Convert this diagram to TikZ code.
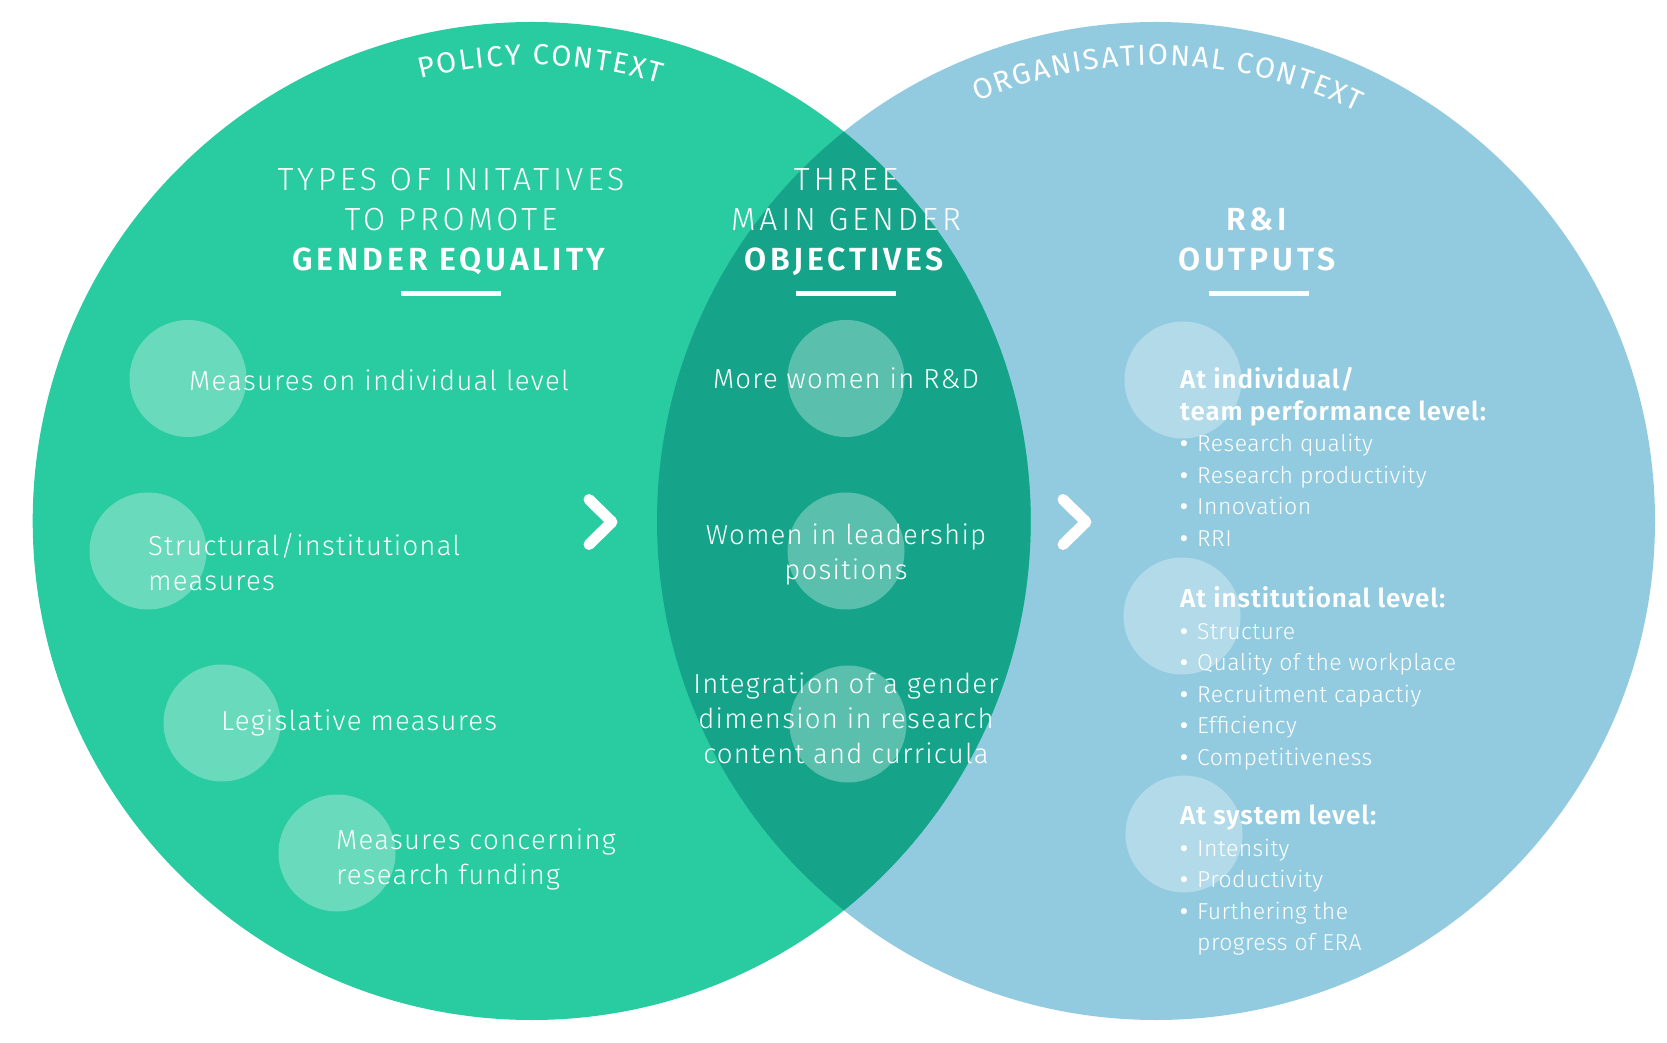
\documentclass[tikz,border=0pt]{standalone}
\usepackage{fontspec}
\setmainfont{Fira Sans Light}[BoldFont={Fira Sans SemiBold}]
\newfontfamily\ctxfont{Fira Sans}
\usetikzlibrary{decorations.text}
\definecolor{cgreen}{RGB}{41,203,160}
\definecolor{cblue}{RGB}{146,203,223}
\definecolor{coverlap}{RGB}{21,164,138}
\newcommand{\itm}[1]{\makebox[17pt][l]{\bfseries\textbullet}#1}
\newcommand{\ohead}[1]{{\fontsize{26}{31.5}\selectfont\bfseries\addfontfeatures{LetterSpace=3.5}#1}}
\begin{document}
\begin{tikzpicture}[x=1pt,y=1pt,
  bubble/.style={circle, fill=white, fill opacity=0.3, minimum size=117pt, inner sep=0pt},
  lbl/.style={text=white, font=\fontsize{27.5}{35}\selectfont\addfontfeatures{LetterSpace=4.5}, inner sep=0pt},
  head/.style={text=white, align=center, inner sep=0pt, font=\fontsize{32}{40}\selectfont\addfontfeatures{LetterSpace=12}},
  bar/.style={white, line width=5pt},
  chev/.style={white, line width=11pt, line cap=round, line join=round},
  outl/.style={text=white, inner sep=0pt, anchor=north west, font=\fontsize{23}{31.5}\selectfont\addfontfeatures{LetterSpace=2}},
  arctext/.style={decorate, decoration={text along path, text align=fit to path, text color=white,
     text={|\ctxfont\fontsize{29}{29}\selectfont\color{white}|#1}}}
]
\useasboundingbox (0,0) rectangle (1667,1042);
\coordinate (L) at (531.7,521);
\coordinate (R) at (1156,521);
\fill[cblue] (R) circle (499);
\fill[cgreen] (L) circle (499);
\begin{scope}
  \clip (L) circle (499);
  \fill[coverlap] (R) circle (499);
\end{scope}

% curved context labels
\path[arctext={POLICY CONTEXT}] ([shift={(104.1:456)}]L) arc[start angle=104.1, end angle=73.7, radius=456];
\path[arctext={ORGANISATIONAL CONTEXT}] ([shift={(113.1:456)}]R) arc[start angle=113.1, end angle=63.8, radius=456];

% bubbles
\node[bubble] (b1) at (188,663.5) {};
\node[bubble] (b2) at (148,491) {};
\node[bubble] (b3) at (222,319) {};
\node[bubble] (b4) at (337,189) {};
\node[bubble] (b5) at (846,663.5) {};
\node[bubble] (b6) at (846,491) {};
\node[bubble] (b7) at (848,318) {};
\node[bubble] (b8) at (1183,662) {};
\node[bubble] (b9) at (1182,426) {};
\node[bubble] (b10) at (1184,208) {};

% headings
\node[head] (h1) at (451,819.5) {\strut TYPES OF INITATIVES\\\strut TO PROMOTE\\\strut\textbf{GENDER EQUALITY}};
\node[head] (h2) at (846,819.5) {\strut THREE\\\strut MAIN GENDER\\\strut\textbf{OBJECTIVES}};
\node[head] (h3) at (1259,799.5) {\strut\textbf{R\&I}\\\strut\textbf{OUTPUTS}};
\draw[bar] (401,748.6) -- (501,748.6);
\draw[bar] (796,748.6) -- (896,748.6);
\draw[bar] (1209,748.6) -- (1309,748.6);

% left labels
\node[lbl, anchor=west] (t1) at (189,658) {\strut Measures on individual level};
\node[lbl, anchor=west, align=left] (t2) at (148,476) {\strut Structural/institutional\\\strut measures};
\node[lbl, anchor=west] (t3) at (221,318) {\strut Legislative measures};
\node[lbl, anchor=west, align=left] (t4) at (336,182.5) {\strut Measures concerning\\\strut research funding};

% middle labels
\node[lbl, align=center] (m1) at (846,660.5) {\strut More women in R\&D};
\node[lbl, align=center] (m2) at (846,486.5) {\strut Women in leadership\\\strut positions};
\node[lbl, align=center] (m3) at (846,320.2) {\strut Integration of a gender\\\strut dimension in research\\\strut content and curricula};

% chevrons
\draw[chev] (589,542.5) -- (612,520) -- (589,497.5);
\draw[chev] (1063,542.5) -- (1086,520) -- (1063,497.5);

% right outputs
\node[outl] (o1) at (1180,675.5) {\begin{tabular}{@{}l@{}}
\ohead{At individual/}\\
\ohead{team performance level:}\\
\itm{Research quality}\\
\itm{Research productivity}\\
\itm{Innovation}\\
\itm{RRI}
\end{tabular}};
\node[outl] (o2) at (1180,456.5) {\begin{tabular}{@{}l@{}}
\ohead{At institutional level:}\\
\itm{Structure}\\
\itm{Quality of the workplace}\\
\itm{Recruitment capactiy}\\
\itm{Efficiency}\\
\itm{Competitiveness}
\end{tabular}};
\node[outl] (o3) at (1180,239.6) {\begin{tabular}{@{}l@{}}
\ohead{At system level:}\\
\itm{Intensity}\\
\itm{Productivity}\\
\itm{Furthering the}\\
\hspace*{17pt}progress of ERA
\end{tabular}};
\end{tikzpicture}
\end{document}
